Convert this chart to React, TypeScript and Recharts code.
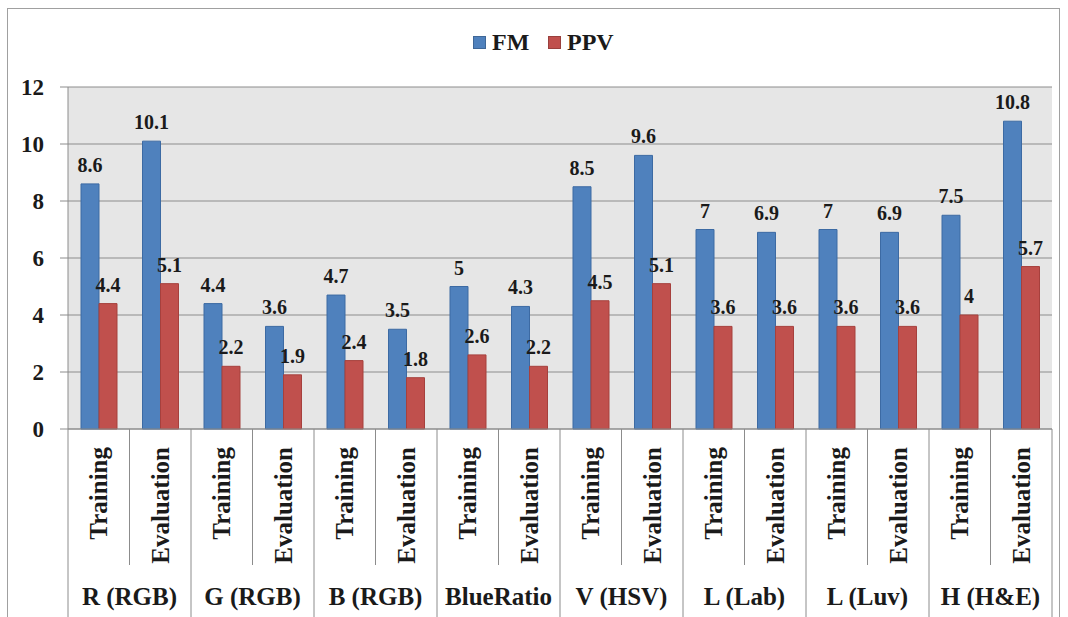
import { BarChart, Bar, XAxis, YAxis, CartesianGrid, Legend, LabelList } from "recharts"

const groups = ["R (RGB)", "G (RGB)", "B (RGB)", "BlueRatio", "V (HSV)", "L (Lab)", "L (Luv)", "H (H&E)"]
const stages = ["Training", "Evaluation"]
const fmValues = [8.6, 10.1, 4.4, 3.6, 4.7, 3.5, 5, 4.3, 8.5, 9.6, 7, 6.9, 7, 6.9, 7.5, 10.8]
const ppvValues = [4.4, 5.1, 2.2, 1.9, 2.4, 1.8, 2.6, 2.2, 4.5, 5.1, 3.6, 3.6, 3.6, 3.6, 4, 5.7]
const yTicks = [0, 2, 4, 6, 8, 10, 12]

const FONT = "Liberation Serif, Times New Roman, serif"
const BLUE = "#4f81bd"
const RED = "#c0504d"
const GRID = "#8c8c8c"
const INK = "#1a1a1a"

// plot geometry (chart fills the whole 1068x617 window)
const W = 1068
const H = 617
const PLOT_LEFT = 68
const PLOT_RIGHT = 1052
const AXIS_Y = 429
const BAND = (PLOT_RIGHT - PLOT_LEFT) / fmValues.length

const data = fmValues.map((fm, i) => ({
  name: `${groups[Math.floor(i / 2)]}|${stages[i % 2]}`,
  fm,
  ppv: ppvValues[i],
}))

const textStyle = { fontFamily: FONT, fontWeight: 700 }

function CategoryTick(props: any) {
  const { x, payload, index } = props
  const [group, stage] = String(payload.value).split("|")
  const left = x - BAND / 2
  const right = x + BAND / 2
  const isFirst = index % 2 === 0
  return (
    <g>
      {/* separator on the left of each category */}
      <line x1={left} x2={left} y1={AXIS_Y} y2={isFirst ? H : 565} stroke={GRID} strokeWidth={1} />
      {index === fmValues.length - 1 && (
        <line x1={right} x2={right} y1={AXIS_Y} y2={H} stroke={GRID} strokeWidth={1} />
      )}
      <text
        x={x}
        y={447}
        transform={`rotate(-90 ${x} 447)`}
        textAnchor="end"
        dominantBaseline="central"
        style={{ ...textStyle, fontSize: 25 }}
        fill={INK}
      >
        {stage}
      </text>
      {isFirst && (
        <text x={right} y={605} textAnchor="middle" style={{ ...textStyle, fontSize: 25 }} fill={INK}>
          {group}
        </text>
      )}
    </g>
  )
}

function LegendContent(props: any) {
  const items = props.payload || []
  return (
    <div style={{ position: "relative", height: 30, ...textStyle, fontSize: 24, color: INK }}>
      {items.map((item: any, i: number) => {
        const start = i === 0 ? 473 : 548
        return (
          <div key={item.value} style={{ position: "absolute", left: start, top: 0, display: "flex", alignItems: "center", height: 30 }}>
            <span
              style={{
                display: "inline-block",
                width: 13,
                height: 13,
                background: item.color,
                border: "1px solid rgba(0,0,0,0.2)",
                boxSizing: "border-box",
                marginRight: 6,
              }}
            />
            <span style={{ lineHeight: "30px" }}>{item.value}</span>
          </div>
        )
      })}
    </div>
  )
}

export default function App() {
  return (
    <div style={{ position: "absolute", left: 0, top: 0, width: W, height: H, background: "#fff", overflow: "hidden" }}>
      <svg width={W} height={H} style={{ position: "absolute", left: 0, top: 0 }}>
        <rect x={7.5} y={8.5} width={1052} height={640} fill="none" stroke="#a0a0a0" strokeWidth={1} />
      </svg>
      <div style={{ position: "absolute", left: 0, top: 0 }}>
        <BarChart
          width={W}
          height={H}
          data={data}
          margin={{ top: 87, right: W - PLOT_RIGHT, bottom: 8, left: 8 }}
          barGap={0}
          barSize={18}
        >
          <CartesianGrid vertical={false} stroke={GRID} fill="#e6e6e6" fillOpacity={1} />
          <XAxis
            dataKey="name"
            height={180}
            interval={0}
            tickLine={false}
            axisLine={{ stroke: GRID }}
            tick={<CategoryTick />}
          />
          <YAxis
            width={60}
            domain={[0, 12]}
            ticks={yTicks}
            interval={0}
            tickSize={8}
            tickMargin={16}
            tickLine={{ stroke: GRID }}
            axisLine={{ stroke: GRID }}
            tick={{ style: { ...textStyle, fontSize: 23 }, fill: INK }}
          />
          <Legend
            verticalAlign="middle"
            layout="horizontal"
            align="center"
            wrapperStyle={{ top: 27, left: 0, width: W }}
            content={<LegendContent />}
          />
          <Bar dataKey="fm" name="FM" fill={BLUE} stroke="#3c6aa3" strokeWidth={1} isAnimationActive={false}>
            <LabelList dataKey="fm" position="top" offset={12} fill={INK} style={{ ...textStyle, fontSize: 20 }} />
          </Bar>
          <Bar dataKey="ppv" name="PPV" fill={RED} stroke="#a6403d" strokeWidth={1} isAnimationActive={false}>
            <LabelList dataKey="ppv" position="top" offset={12} fill={INK} style={{ ...textStyle, fontSize: 20 }} />
          </Bar>
        </BarChart>
      </div>
    </div>
  )
}
